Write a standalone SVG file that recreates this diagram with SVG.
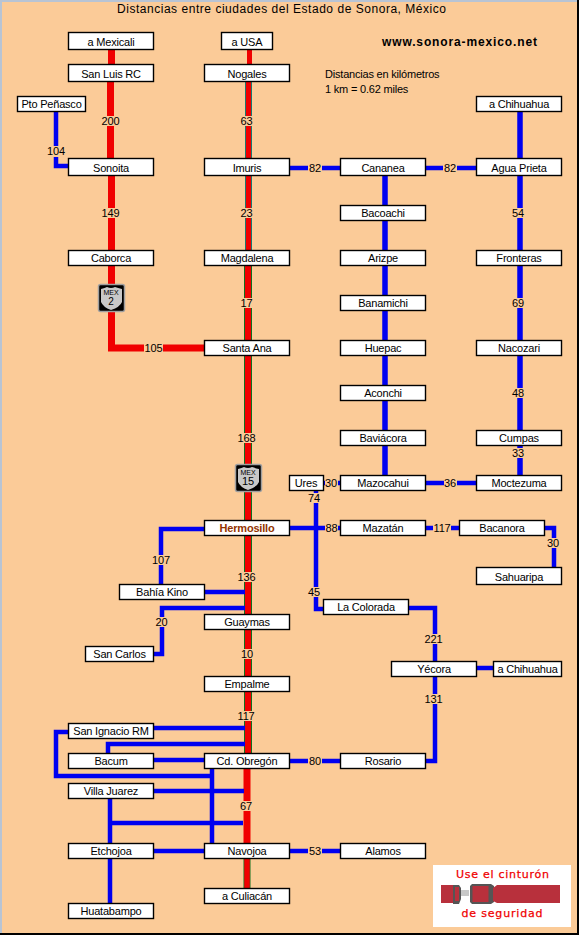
<svg xmlns="http://www.w3.org/2000/svg" width="579" height="935" viewBox="0 0 579 935">
<style>
text{font-family:"Liberation Sans",Arial,sans-serif;font-size:11px;letter-spacing:-0.2px;fill:#000;text-anchor:middle}
.b{fill:#fff;stroke:#000;stroke-width:1.4}
.lb{fill:#fbcb98}
.bl{fill:none;stroke:#0000f0;stroke-width:4.5}
.rd{fill:none;stroke:#f00000;stroke-width:6}
.dk{fill:none;stroke:#107020;stroke-width:8}
.sh{fill:#c8c8c8}
.bk{fill:#000;stroke:#a0a0a0;stroke-width:1.5}
.belt{font-family:"DejaVu Sans",sans-serif;font-size:11px;fill:#f00000;stroke:#f00000;stroke-width:.25;letter-spacing:0}
</style>
<rect width="579" height="935" fill="#fbcb98"/>
<rect width="579" height="2" fill="#b8c4d4"/>
<rect width="2" height="935" fill="#b8c4d4"/>
<rect x="577" width="2" height="935" fill="#000"/>
<rect y="933" width="579" height="2" fill="#000"/>
<text x="281.500" y="13" style="font-size:12px;letter-spacing:0" textLength="329" lengthAdjust="spacing">Distancias entre ciudades del Estado de Sonora, México</text>
<text x="459.500" y="46" style="font-size:12px;font-weight:bold;letter-spacing:0" textLength="155" lengthAdjust="spacing">www.sonora-mexico.net</text>
<text x="325" y="78" style="text-anchor:start">Distancias en kilómetros</text>
<text x="325" y="93" style="text-anchor:start">1 km = 0.62 miles</text>

<g id="connectors">
<path class="rd" style="stroke-width:7" d="M111.500 50V64M110.500 82V158M111.500 176V348H204"/>
<path class="rd" style="stroke-width:5" d="M249.500 50V64"/>
<path class="dk" style="stroke:#1a7a70;stroke-width:7" d="M248.500 82V158M248.500 176V250"/>
<path class="rd" style="stroke-width:5" d="M248.500 82V158M248.500 176V250"/>
<path class="dk" d="M248 266V340M248 356V520M248 536V614M248 630V676M248 692V753"/>
<path class="rd" d="M248 266V340M248 356V520M248 536V614M248 630V676M248 692V753"/>
<path class="rd" style="stroke-width:7" d="M247 769V843"/>
<path class="dk" style="stroke-width:7" d="M247 859V888"/>
<path class="rd" style="stroke-width:5.500" d="M247 859V888"/>
<path class="bl" d="M56 112V166H68M290 168H340M426 168H476"/>
<path class="bl" style="stroke-width:5.500" d="M385 176V475M520 112V475"/>
<path class="bl" d="M324 483H340M426 483H476M290 528H340M426 528H459M545 528H554V567M316 491V609H323M409 608H435V661M477 668H493M435 677V761H426M290 761H340M290 851H340"/>
<path class="bl" d="M204 529H161V584M205 592H245M245 608H162V654H154"/>
<path class="bl" d="M154 728H245M108 753V744H245M154 760H204M68 732H56V776H212M212 769V843M154 791H244M110 799V843M110 823H243M154 851H204M110 859V903"/>
</g>

<g id="labels">
<rect class="lb" x="100" y="116" width="21" height="10"/><text x="110.500" y="125">200</text>
<rect class="lb" x="100" y="208" width="21" height="10"/><text x="110.500" y="217">149</text>
<rect class="lb" x="46" y="146" width="20" height="11"/><text x="56" y="155">104</text>
<rect class="lb" x="144" y="343" width="19" height="11"/><text x="153.500" y="352">105</text>
<rect class="lb" x="240" y="116" width="13" height="10"/><text x="246.500" y="125">63</text>
<rect class="lb" x="240" y="208" width="13" height="10"/><text x="246.500" y="217">23</text>
<rect class="lb" x="240" y="298" width="13" height="10"/><text x="246.500" y="307">17</text>
<rect class="lb" x="237" y="433" width="20" height="10"/><text x="246.500" y="442">168</text>
<rect class="lb" x="237" y="572" width="20" height="10"/><text x="246.500" y="581">136</text>
<rect class="lb" x="240" y="649" width="14" height="10"/><text x="247" y="658">10</text>
<rect class="lb" x="237" y="711" width="20" height="10"/><text x="246" y="720">117</text>
<rect class="lb" x="240" y="801" width="13" height="10"/><text x="246" y="810">67</text>
<rect class="lb" x="308" y="162" width="14" height="11"/><text x="315" y="172">82</text>
<rect class="lb" x="443" y="162" width="14" height="11"/><text x="450" y="172">82</text>
<rect class="lb" x="512" y="208" width="14" height="10"/><text x="518" y="217">54</text>
<rect class="lb" x="512" y="298" width="14" height="10"/><text x="518" y="307">69</text>
<rect class="lb" x="512" y="388" width="14" height="10"/><text x="518" y="397">48</text>
<rect class="lb" x="512" y="448" width="14" height="10"/><text x="518" y="457">33</text>
<rect class="lb" x="325" y="478" width="13" height="10"/><text x="331" y="487">30</text>
<rect class="lb" x="444" y="478" width="13" height="10"/><text x="450" y="487">36</text>
<rect class="lb" x="308" y="493" width="13" height="10"/><text x="314" y="502">74</text>
<rect class="lb" x="325" y="523" width="13" height="10"/><text x="331.500" y="532">88</text>
<rect class="lb" x="433" y="523" width="18" height="10"/><text x="442" y="532">117</text>
<rect class="lb" x="547" y="538" width="13" height="10"/><text x="553" y="547">30</text>
<rect class="lb" x="308" y="587" width="13" height="10"/><text x="314" y="596">45</text>
<rect class="lb" x="425" y="634" width="18" height="10"/><text x="433.500" y="643">221</text>
<rect class="lb" x="425" y="694" width="18" height="10"/><text x="433.500" y="703">131</text>
<rect class="lb" x="308" y="756" width="14" height="10"/><text x="315" y="765">80</text>
<rect class="lb" x="308" y="846" width="14" height="10"/><text x="315" y="855">53</text>
<rect class="lb" x="151" y="555" width="20" height="10"/><text x="161" y="564">107</text>
<rect class="lb" x="155" y="617" width="13" height="10"/><text x="161.500" y="626">20</text>
</g>

<g id="shield-2">
<rect class="bk" x="98.500" y="284.500" width="26" height="27" rx="2"/>
<path class="sh" d="M101 289Q105 288 107 287Q111 289 115 287Q118 288 122 289V302Q120 307 111 310Q103 307 101 302Z"/>
<text x="111" y="295" style="font-size:7px;letter-spacing:0" fill="#333">MEX</text>
<text x="111" y="305" style="font-size:10px">2</text>
</g>
<g id="shield-15">
<rect class="bk" x="235.500" y="464.500" width="26" height="27" rx="2"/>
<path class="sh" d="M238 469Q242 468 244 467Q248 469 252 467Q255 468 259 469V482Q257 487 248 490Q240 487 238 482Z"/>
<text x="248" y="475" style="font-size:7px;letter-spacing:0" fill="#333">MEX</text>
<text x="248" y="485" style="font-size:11px;letter-spacing:0">15</text>
</g>

<g id="n-mexicali"><rect class="b" x="68.500" y="32.500" width="85" height="17"/><text x="111" y="46">a Mexicali</text></g>
<g id="n-sanluis"><rect class="b" x="68.500" y="64.500" width="85" height="17"/><text x="111" y="78">San Luis RC</text></g>
<g id="n-penasco"><rect class="b" x="17.500" y="96.500" width="68" height="15"/><text x="51.500" y="108">Pto Peñasco</text></g>
<g id="n-sonoita"><rect class="b" x="68.500" y="158.500" width="85" height="17"/><text x="111" y="172">Sonoita</text></g>
<g id="n-caborca"><rect class="b" x="68.500" y="250.500" width="85" height="15"/><text x="111" y="262">Caborca</text></g>
<g id="n-usa"><rect class="b" x="221.500" y="32.500" width="51" height="17"/><text x="247" y="46">a USA</text></g>
<g id="n-nogales"><rect class="b" x="204.500" y="64.500" width="85" height="17"/><text x="247" y="78">Nogales</text></g>
<g id="n-imuris"><rect class="b" x="204.500" y="158.500" width="85" height="17"/><text x="247" y="172">Imuris</text></g>
<g id="n-magdalena"><rect class="b" x="204.500" y="250.500" width="85" height="15"/><text x="247" y="262">Magdalena</text></g>
<g id="n-santaana"><rect class="b" x="204.500" y="340.500" width="85" height="15"/><text x="247" y="352">Santa Ana</text></g>
<g id="n-hermosillo"><rect class="b" x="204.500" y="520.500" width="85" height="15"/><text x="247" y="532" style="font-weight:bold;fill:#933300">Hermosillo</text></g>
<g id="n-guaymas"><rect class="b" x="204.500" y="614.500" width="85" height="15"/><text x="247" y="626">Guaymas</text></g>
<g id="n-empalme"><rect class="b" x="204.500" y="676.500" width="85" height="15"/><text x="247" y="688">Empalme</text></g>
<g id="n-obregon"><rect class="b" x="204.500" y="753.500" width="85" height="15"/><text x="247" y="765">Cd. Obregón</text></g>
<g id="n-navojoa"><rect class="b" x="204.500" y="843.500" width="85" height="15"/><text x="247" y="855">Navojoa</text></g>
<g id="n-culiacan"><rect class="b" x="204.500" y="888.500" width="85" height="15"/><text x="247" y="900">a Culiacán</text></g>
<g id="n-kino"><rect class="b" x="119.500" y="584.500" width="85" height="15"/><text x="162" y="596">Bahía Kino</text></g>
<g id="n-sancarlos"><rect class="b" x="85.500" y="646.500" width="68" height="15"/><text x="119.500" y="658">San Carlos</text></g>
<g id="n-sanignacio"><rect class="b" x="68.500" y="723.500" width="85" height="15"/><text x="111" y="735">San Ignacio RM</text></g>
<g id="n-bacum"><rect class="b" x="68.500" y="753.500" width="85" height="15"/><text x="111" y="765">Bacum</text></g>
<g id="n-villajuarez"><rect class="b" x="68.500" y="783.500" width="85" height="15"/><text x="111" y="795">Villa Juarez</text></g>
<g id="n-etchojoa"><rect class="b" x="68.500" y="843.500" width="85" height="15"/><text x="111" y="855">Etchojoa</text></g>
<g id="n-huatabampo"><rect class="b" x="68.500" y="903.500" width="85" height="15"/><text x="111" y="915">Huatabampo</text></g>
<g id="n-cananea"><rect class="b" x="340.500" y="158.500" width="85" height="17"/><text x="383" y="172">Cananea</text></g>
<g id="n-bacoachi"><rect class="b" x="340.500" y="205.500" width="85" height="15"/><text x="383" y="217">Bacoachi</text></g>
<g id="n-arizpe"><rect class="b" x="340.500" y="250.500" width="85" height="15"/><text x="383" y="262">Arizpe</text></g>
<g id="n-banamichi"><rect class="b" x="340.500" y="295.500" width="85" height="15"/><text x="383" y="307">Banamichi</text></g>
<g id="n-huepac"><rect class="b" x="340.500" y="340.500" width="85" height="15"/><text x="383" y="352">Huepac</text></g>
<g id="n-aconchi"><rect class="b" x="340.500" y="385.500" width="85" height="15"/><text x="383" y="397">Aconchi</text></g>
<g id="n-baviacora"><rect class="b" x="340.500" y="430.500" width="85" height="15"/><text x="383" y="442">Baviácora</text></g>
<g id="n-mazocahui"><rect class="b" x="340.500" y="475.500" width="85" height="15"/><text x="383" y="487">Mazocahui</text></g>
<g id="n-ures"><rect class="b" x="289.500" y="475.500" width="34" height="15"/><text x="306" y="487">Ures</text></g>
<g id="n-mazatan"><rect class="b" x="340.500" y="520.500" width="85" height="15"/><text x="383" y="532">Mazatán</text></g>
<g id="n-rosario"><rect class="b" x="340.500" y="753.500" width="85" height="15"/><text x="383" y="765">Rosario</text></g>
<g id="n-alamos"><rect class="b" x="340.500" y="843.500" width="85" height="15"/><text x="383" y="855">Alamos</text></g>
<g id="n-colorada"><rect class="b" x="323.500" y="599.500" width="85" height="15"/><text x="366" y="611">La Colorada</text></g>
<g id="n-yecora"><rect class="b" x="391.500" y="661.500" width="85" height="15"/><text x="434" y="673">Yécora</text></g>
<g id="n-chihuahua2"><rect class="b" x="493.500" y="661.500" width="68" height="15"/><text x="527.500" y="673">a Chihuahua</text></g>
<g id="n-bacanora"><rect class="b" x="459.500" y="520.500" width="85" height="15"/><text x="502" y="532">Bacanora</text></g>
<g id="n-sahuaripa"><rect class="b" x="476.500" y="567.500" width="85" height="17"/><text x="519" y="581">Sahuaripa</text></g>
<g id="n-chihuahua1"><rect class="b" x="476.500" y="96.500" width="85" height="15"/><text x="519" y="108">a Chihuahua</text></g>
<g id="n-aguaprieta"><rect class="b" x="476.500" y="158.500" width="85" height="17"/><text x="519" y="172">Agua Prieta</text></g>
<g id="n-fronteras"><rect class="b" x="476.500" y="250.500" width="85" height="15"/><text x="519" y="262">Fronteras</text></g>
<g id="n-nacozari"><rect class="b" x="476.500" y="340.500" width="85" height="15"/><text x="519" y="352">Nacozari</text></g>
<g id="n-cumpas"><rect class="b" x="476.500" y="430.500" width="85" height="15"/><text x="519" y="442">Cumpas</text></g>
<g id="n-moctezuma"><rect class="b" x="476.500" y="475.500" width="85" height="15"/><text x="519" y="487">Moctezuma</text></g>

<g id="seatbelt">
<rect x="433" y="865" width="138" height="62" fill="#fff"/>
<text class="belt" x="502.500" y="878" textLength="93" lengthAdjust="spacing">Use el cinturón</text>
<text class="belt" x="502" y="917" textLength="81" lengthAdjust="spacing">de seguridad</text>
<rect x="441" y="885" width="12" height="18" fill="#b8303c"/>
<path d="M453 885H459L461 888V899L459 904H453Z" fill="#555"/>
<rect x="455" y="887" width="4" height="14" fill="#b8303c"/>
<rect x="461" y="890" width="8" height="6" fill="#c8c8c8"/>
<path d="M470 886L472 884H491L494 886V902L491 904H472L470 902Z" fill="#555"/>
<rect x="472.500" y="886" width="16" height="16" fill="#b8303c"/>
<path d="M493 888L497 885H560V903H497L493 901Z" fill="#b8303c"/>
</g>
</svg>
